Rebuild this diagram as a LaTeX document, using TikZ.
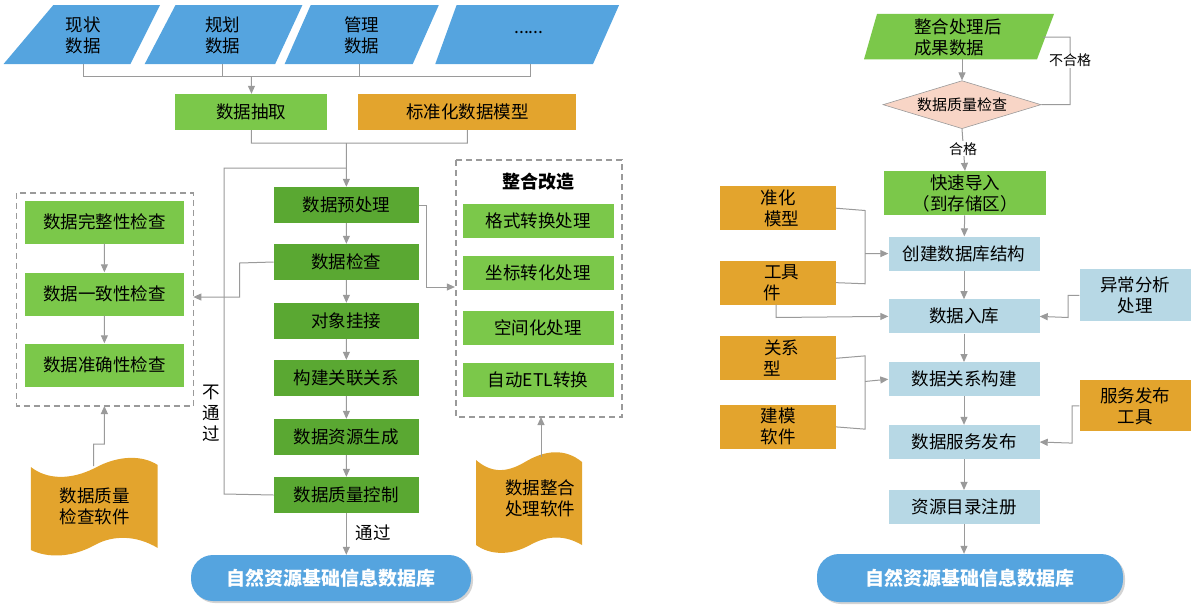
\documentclass[tikz,border=0pt]{standalone}
\usepackage{fontspec}
\setmainfont{Noto Sans CJK SC}
\usetikzlibrary{arrows.meta,shapes.geometric,shadows}
\definecolor{blu}{HTML}{55A4DF}
\definecolor{lg}{HTML}{7BC84A}
\definecolor{dg}{HTML}{5AA832}
\definecolor{org}{HTML}{E3A42D}
\definecolor{lb}{HTML}{B7D8E5}
\definecolor{pk}{HTML}{F8D5C6}
\definecolor{ln}{HTML}{9A9A9A}
\tikzset{
 ar/.style={draw=ln,line width=1pt,-{Triangle[length=8pt,width=7pt]}},
 li/.style={draw=ln,line width=1pt},
 dbox/.style={draw=ln,line width=1.2pt,dash pattern=on 6pt off 4pt},
 tx/.style={font=\fontsize{17.5}{21}\selectfont,align=center,inner sep=0pt},
 db/.style={fill=blu,rounded corners=22pt,drop shadow={opacity=0.35,shadow xshift=2pt,shadow yshift=-2pt},text=white,font=\fontsize{19}{22}\selectfont\bfseries}
}
\begin{document}
\begin{tikzpicture}[x=1pt,y=-1pt]
\useasboundingbox (0,0) rectangle (1198,608);
\begin{scope}[xscale=1.186]
\fill[blu] (45,5)--(135,5)--(110,64)--(3,64)--cycle;
\fill[blu] (148,5)--(255,5)--(232,64)--(122,64)--cycle;
\fill[blu] (262,5)--(370,5)--(348,64)--(240,64)--cycle;
\fill[blu] (385,5)--(522,5)--(500,64)--(367,64)--cycle;
\node[tx] (p1) at (70,35) {现状\\数据};
\node[tx] (p2) at (188,35) {规划\\数据};
\node[tx] (p3) at (305,35) {管理\\数据};
\node[tx] (p4) at (446,33) {......};
\draw[li] (70,64)--(70,76)--(447,76)--(447,64);
\draw[li] (188,64)--(188,76); \draw[li] (303,64)--(303,76);
\node[fill=lg,minimum width=152pt,minimum height=36pt,tx] (ex) at (212,112) {数据抽取};
\node[fill=org,minimum width=218pt,minimum height=36pt,tx] (sm) at (394,112) {标准化数据模型};
\draw[ar] (212,76)--(ex.north);
\draw[li] (ex.south)--(212,143)--(394,143)--(sm.south);
\foreach \n/\y/\t in {c1/205/数据预处理,c2/262/数据检查,c3/321/对象挂接,c4/378/构建关联关系,c5/437/数据资源生成,c6/495/数据质量控制}
  \node[fill=dg,minimum width=145pt,minimum height=36pt,tx] (\n) at (292,\y) {\t};
\draw[ar] (292,143)--(c1.north);
\draw[ar] (c1)--(c2); \draw[ar] (c2)--(c3); \draw[ar] (c3)--(c4); \draw[ar] (c4)--(c5); \draw[ar] (c5)--(c6);
\draw[li] (c6.west)--(189,494)--(189,168)--(292,168);
\draw[dbox] (14,193) rectangle (163,406);
\foreach \n/\y/\t in {l1/222/数据完整性检查,l2/294/数据一致性检查,l3/365/数据准确性检查}
  \node[fill=lg,minimum width=159pt,minimum height=43pt,tx] (\n) at (88,\y) {\t};
\draw[ar] (l1)--(l2); \draw[ar] (l2)--(l3);
\coordinate (lb) at (163,297);
\draw[ar] (c2.west)--(202,263)--(202,297)--(lb);
\fill[org] (26,467) .. controls (40,480) and (60,480) .. (80,468) .. controls (100,455) and (120,455) .. (133,465) -- (133,548) .. controls (115,535) and (95,535) .. (80,545) .. controls (60,558) and (40,558) .. (26,550) -- cycle;
\node[tx] (sw1) at (80,506) {数据质量\\检查软件};
\coordinate (lbb) at (88,406);
\draw[ar] (79,466)--(79,444)--(88,444)--(lbb);
\coordinate (rb) at (383.5,287);
\draw[ar] (c1.east)--(360,205)--(360,287)--(rb);
\end{scope}
\node[tx] (ng) at (211,413) {不\\通\\过};
\draw[dbox] (456,160) rectangle (622,417);
\node[font=\fontsize{18}{21}\selectfont\bfseries] (tt) at (538,182) {整合改造};
\foreach \n/\y/\t in {r1/221/格式转换处理,r2/273/坐标转化处理,r3/328/空间化处理,r4/380/自动ETL转换}
  \node[fill=lg,minimum width=151pt,minimum height=34pt,tx] (\n) at (538,\y) {\t};
\fill[org] (476,460) .. controls (490,472) and (505,474) .. (525,462) .. controls (545,450) and (565,448) .. (582,462) -- (582,545) .. controls (565,535) and (548,535) .. (530,545) .. controls (510,556) and (490,555) .. (476,545) -- cycle;
\node[tx] (sw2) at (540,498) {数据整合\\处理软件};
\coordinate (rbb) at (541,417);
\draw[ar] (541,457)--(rbb);
\node[db,minimum width=280pt,minimum height=46pt] (db1) at (331,578) {自然资源基础信息数据库};
\draw[ar] (c6.south)--(c6.south |- db1.north);
\node[tx] (tg) at (373,533) {通过};
\begin{scope}[yscale=1.163]
\fill[lg] (877,12)--(1054,12)--(1037,51)--(864,51)--cycle;
\node[font=\fontsize{17.5}{21}\selectfont,align=left] (rp) at (958,32) {整合处理后\\成果数据};
\node[diamond,fill=pk,draw=ln,line width=0.6pt,aspect=3.4,minimum width=158pt,minimum height=48pt,inner sep=0pt,font=\fontsize{15}{18}\selectfont] (dm) at (962,90) {数据质量检查};
\draw[ar] (962,51)--(dm.north);
\draw[li] (1043,32)--(1070,32)--(1070,90)--(dm.east);
\node[fill=white,font=\fontsize{14}{17}\selectfont,inner sep=1pt] (bh) at (1070,52) {不合格};
\node[fill=lg,minimum width=162pt,minimum height=44pt,tx] (fi) at (965,166) {快速导入\\（到存储区）};
\draw[ar] (dm.south)--(fi.north);
\node[fill=white,font=\fontsize{14}{17}\selectfont,inner sep=1pt] (hg) at (963,128) {合格};
\foreach \n/\y/\t in {b1/218/创建数据库结构,b2/272/数据入库,b3/326/数据关系构建,b4/380/数据服务发布,b5/436/资源目录注册}
  \node[fill=lb,minimum width=151pt,minimum height=34pt,tx] (\n) at (964,\y) {\t};
\draw[ar] (fi)--(b1); \draw[ar] (b1)--(b2); \draw[ar] (b2)--(b3); \draw[ar] (b3)--(b4); \draw[ar] (b4)--(b5);
\foreach \n/\y/\t in {o1/179/{准化\\\ \ 模型},o2/243/{\ \ 工具\\件\ \ \ \ },o3/308/{\ \ 关系\\型\ \ \ \ },o4/367/{建模\\软件}}
  \node[fill=org,minimum width=116pt,minimum height=44pt,tx] (\n) at (778,\y) {\t};
\draw[li] (o1.east)--(865,181)--(865,244)--(o2.east);
\draw[ar] (865,218)--(b1.west);
\draw[ar] (776,262)--(776,273)--(b2.west);
\draw[li] (o3.east)--(865,306)--(865,369)--(o4.east);
\draw[ar] (865,328)--(b3.west);
\node[fill=lb,minimum width=111pt,minimum height=52pt,tx] (ab) at (1135,254) {异常分析\\处理};
\draw[ar] (ab.west)--(1068,254)--(1068,273)--(b2.east);
\node[fill=org,minimum width=111pt,minimum height=51pt,tx] (sp) at (1135,349) {服务发布\\工具};
\draw[ar] (sp.west)--(1072,349)--(1072,381)--(b4.east);
\end{scope}
\node[db,minimum width=306pt,minimum height=48pt] (db2) at (970,578) {自然资源基础信息数据库};
\draw[ar] (b5.south)--(b5.south |- db2.north);
\end{tikzpicture}
\end{document}
